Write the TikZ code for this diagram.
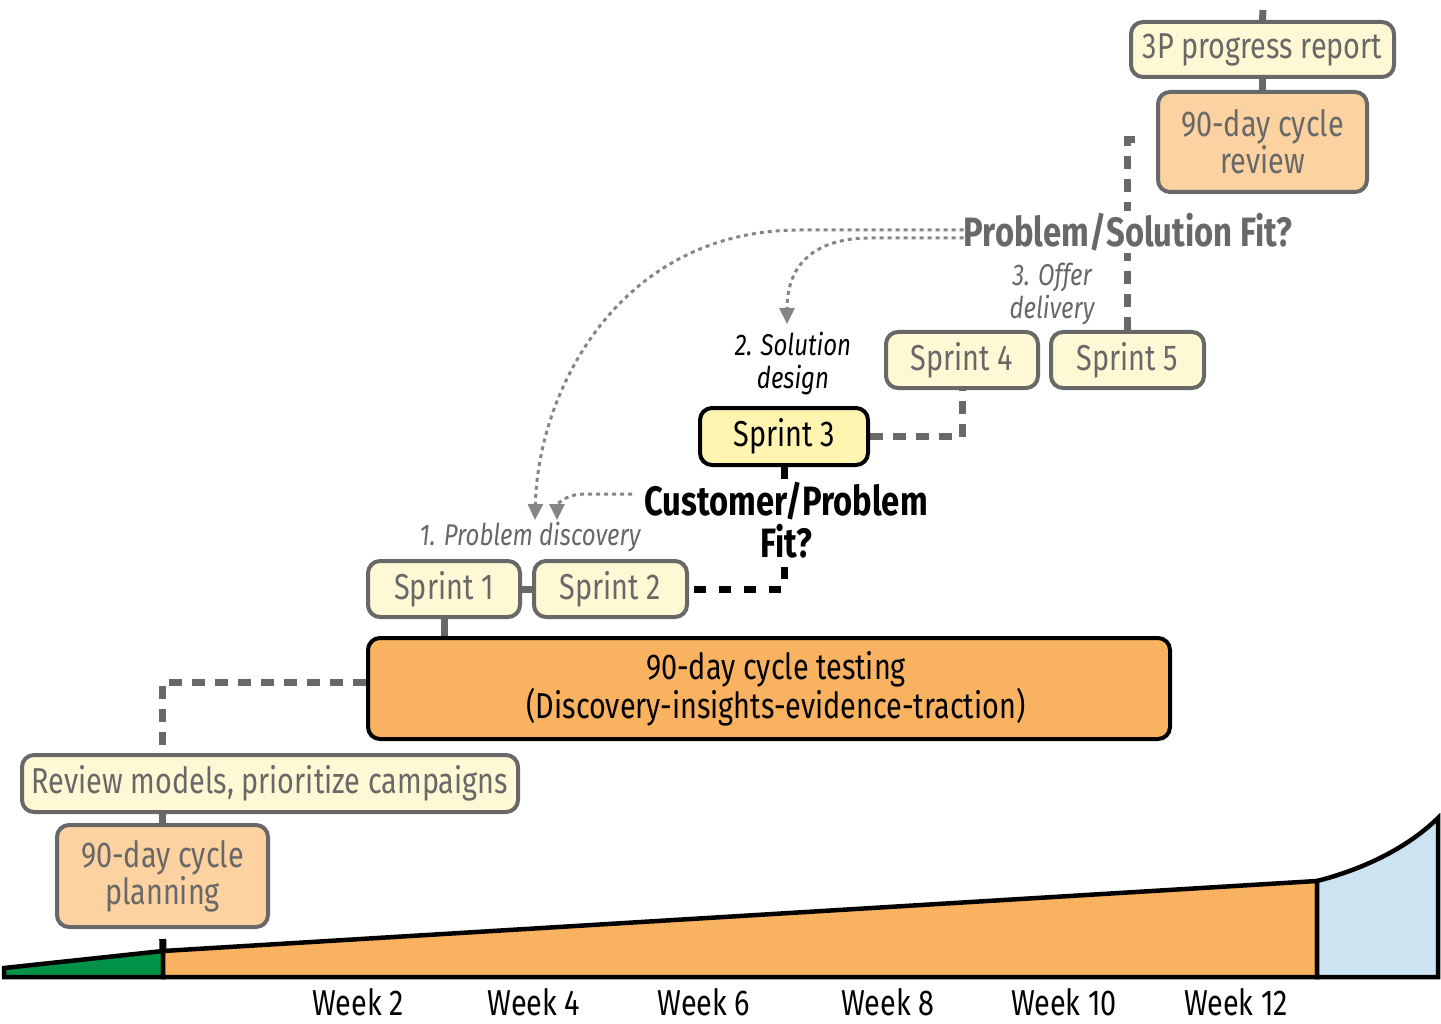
\documentclass[tikz,border=0pt]{standalone}
\usepackage{fontspec}
\setmainfont{Fira Sans}[FakeStretch=0.8]
\usetikzlibrary{arrows.meta,calc,backgrounds}
\definecolor{lyel}{HTML}{FFF8D4}
\definecolor{syel}{HTML}{FFF4B0}
\definecolor{lor}{HTML}{FBD2A0}
\definecolor{orn}{HTML}{F9B260}
\definecolor{grn}{HTML}{009247}
\definecolor{blu}{HTML}{CCE3F1}
\definecolor{gry}{HTML}{686868}
\definecolor{dgry}{HTML}{858585}
\newcommand\fsA{\fontsize{36}{34}\selectfont}
\newcommand\fsB{\fontsize{30}{33}\selectfont}
\newcommand\fsC{\fontsize{41}{42}\selectfont}
\begin{document}
\begin{tikzpicture}[x=1pt,y=-1pt,
  box/.style={draw=gry, line width=4pt, rounded corners=12pt, inner sep=0pt, align=center, font=\fsA, text=gry},
  ybox/.style={box, fill=lyel},
  obox/.style={box, fill=lor},
  gdash/.style={draw=gry, line width=7pt, dash pattern=on 13pt off 10pt},
  bdash/.style={draw=black, line width=7pt, dash pattern=on 12pt off 13pt},
  gstub/.style={draw=gry, line width=7pt},
  dotarrow/.style={draw=dgry, line width=3pt, dash pattern=on 4pt off 4pt, -{Triangle[length=16pt,width=15pt]}},
  lbl/.style={inner sep=2pt, align=center},
  area/.style={draw=black, line width=4.5pt, line join=miter}
]
\useasboundingbox (0,0) rectangle (1441,1024);

% bottom area
\path[area, fill=grn] (4,977) -- (4,968) -- (163,951) -- (163,977) -- cycle;
\path[area, fill=orn] (163,951) -- (1317,881) -- (1317,977) -- (163,977) -- cycle;
\path[area, fill=blu] (1317,881) .. controls (1360,870) and (1405,850) .. (1438,818) -- (1438,977) -- (1317,977) -- cycle;

% week labels
\foreach \x/\w [count=\i] in {358/2, 534/4, 704/6, 888/8, 1064/10, 1236/12}
  \node[lbl, font=\fsA, anchor=base] (wk\i) at (\x,1015) {Week \w};

% nodes
\node[ybox, minimum width=263pt, minimum height=55pt] (p3) at (1262.5,49.5) {3P progress report};
\node[obox, minimum width=209pt, minimum height=100pt] (rv) at (1262.5,142) {90-day cycle\\review};
\node[lbl, fill=white, font=\fsC\bfseries, text=gry] (ps) at (1128,232) {Problem/Solution Fit?};
\node[lbl, font=\fsB\itshape, text=gry] (od) at (1052,294) {3. Offer\\delivery};
\node[ybox, minimum width=152pt, minimum height=56pt] (s4) at (962,360) {Sprint 4};
\node[ybox, minimum width=153pt, minimum height=56pt] (s5) at (1127.5,360) {Sprint 5};
\node[lbl, font=\fsB\itshape, text=black] (sd) at (793,364) {2. Solution\\design};
\node[box, draw=black, fill=syel, text=black, minimum width=168pt, minimum height=57pt] (s3) at (784,436.5) {Sprint 3};
\node[lbl, fill=white, font=\fsC\bfseries, text=black] (cp) at (786,520) {Customer/Problem\\Fit?};
\node[lbl, font=\fsB\itshape, text=gry] (pd) at (530,537) {1. Problem discovery};
\node[ybox, minimum width=152pt, minimum height=56pt] (s1) at (444,589) {Sprint 1};
\node[ybox, minimum width=153pt, minimum height=56pt] (s2) at (610.5,589) {Sprint 2};
\node[box, draw=black, fill=orn, text=black, minimum width=802pt, minimum height=101pt] (tb) at (769,688.5) {\hspace*{14pt}90-day cycle testing\\\hspace*{14pt}(Discovery-insights-evidence-traction)};
\node[ybox, minimum width=496pt, minimum height=57pt] (rm) at (270,783.5) {Review models, prioritize campaigns};
\node[obox, minimum width=211pt, minimum height=102pt] (pl) at (162.5,876) {90-day cycle\\planning};

% coordinates
\coordinate (topc) at (1263,10);
\coordinate (rvl) at (1143,140);
\coordinate (g2) at (163,951);
\coordinate (tipA) at (535,520);
\coordinate (tipB) at (787,324);
\coordinate (tipC) at (557,520);
\coordinate (cpa) at (632,494);

\begin{scope}[on background layer]
\draw[gstub] (topc) -- (p3.north);
\draw[gstub] (p3.south) -- (rv.north);
\draw[gdash] (s5.north) |- (rvl);
\draw[gdash] (s3.east) -| (s4.south);
\draw[bdash] (s3.south) -- (s3.south |- s2.east) -- (s2.east);
\draw[gstub] (s1.east) -- (s2.west);
\draw[gstub] (s1.south) -- (s1.south |- tb.north);
\draw[gdash] ([yshift=6pt]tb.west) -| (rm.north -| pl.north);
\draw[gstub] (pl.north |- rm.south) -- (pl.north);
\draw[bdash, dash pattern=on 0pt off 10pt on 14pt off 20pt] (pl.south) -- (g2);
\end{scope}

\draw[dotarrow] ($(ps.west)+(2,-2)$) -- (800,230) .. controls (620,230) and (538,390) .. (tipA);
\draw[dotarrow] ($(ps.west)+(2,6)$) -- (870,238) .. controls (820,238) and (787,260) .. (tipB);
\draw[dotarrow] (cpa) -- (585,494) .. controls (565,494) and (557,505) .. (tipC);
\end{tikzpicture}
\end{document}
